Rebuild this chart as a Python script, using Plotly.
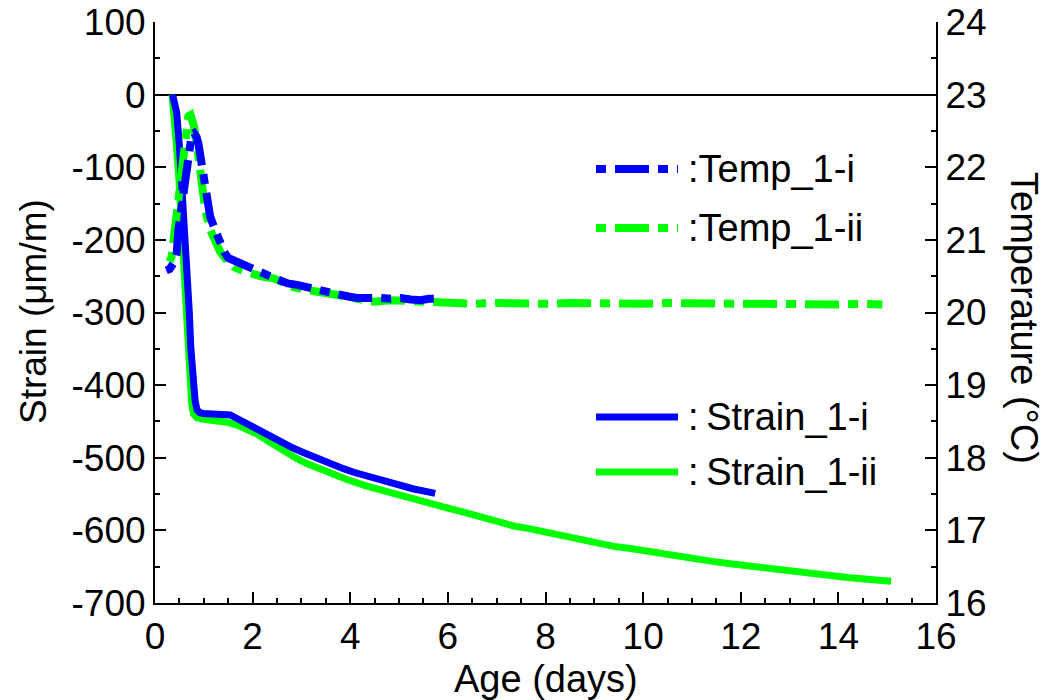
import plotly.graph_objects as go

# ---------------- data ----------------
strain_i_days = [0.36, 0.445, 0.50, 0.547, 0.581, 0.622, 0.663, 0.704, 0.732, 0.773, 0.821, 0.86, 0.92,
                 0.99, 1.2, 1.40, 1.54, 1.68, 1.85, 2.02, 2.25, 2.43, 2.63, 2.84, 3.05, 3.25, 3.45, 3.66,
                 3.86, 4.07, 4.28, 4.48, 4.69, 4.89, 5.10, 5.30, 5.52, 5.74]
strain_i = [0, -25, -71, -117, -163, -209, -255, -301, -347, -393, -421, -434, -438,
            -439, -439, -440, -441, -446, -452, -460, -468, -474, -480, -487, -493, -499, -504, -510,
            -515, -520, -524, -529, -533, -537, -540, -543, -546, -549]

strain_ii_days = [0.35, 0.40, 0.44, 0.49, 0.525, 0.565, 0.605, 0.645, 0.68, 0.715, 0.75, 0.79, 0.86,
                  1.0, 1.25, 1.47, 1.68, 1.88, 2.08, 2.29, 2.50, 2.70, 2.90, 3.11, 3.32, 3.52, 3.73,
                  3.93, 4.34, 4.75, 5.16, 5.57, 5.98, 6.32, 6.66, 7.01, 7.35, 7.69, 8.03, 8.38, 8.72,
                  9.06, 9.40, 9.74, 10.09, 10.43, 10.77, 11.11, 11.45, 11.79, 12.13, 12.48, 12.82,
                  13.16, 13.5, 13.85, 14.19, 14.53, 14.8, 15.08]
strain_ii = [0, -30, -71, -117, -163, -209, -255, -301, -347, -393, -425, -440, -445,
             -447, -449, -451, -455, -460, -467, -476, -485, -494, -501, -508, -514, -520, -525,
             -530, -539, -547, -555, -562, -569, -575, -582, -589, -594, -598, -603, -607, -613,
             -618, -622, -625, -629, -632, -636, -639, -643, -646, -649, -652, -655,
             -657, -660, -662, -665, -667, -668, -670]

temp_i_days = [0.23, 0.30, 0.40, 0.445, 0.48, 0.547, 0.615, 0.683, 0.752, 0.80, 0.85, 0.889, 0.957,
               0.99, 1.06, 1.13, 1.23, 1.33, 1.42, 1.50, 1.65, 1.81, 1.98, 2.15, 2.35, 2.53, 2.72,
               2.91, 3.08, 3.25, 3.52, 3.79, 3.96, 4.14, 4.38, 4.62, 4.83, 5.03, 5.24, 5.44, 5.61, 5.78]
temp_i = [20.58, 20.60, 20.70, 20.82, 21.14, 21.51, 21.83, 22.20, 22.45, 22.47, 22.42, 22.33, 22.06,
          21.83, 21.60, 21.32, 21.14, 20.95, 20.83, 20.75, 20.70, 20.66, 20.60, 20.56, 20.50, 20.44, 20.40,
          20.38, 20.35, 20.32, 20.28, 20.25, 20.22, 20.20, 20.21, 20.20, 20.19, 20.20, 20.18, 20.17, 20.19, 20.19]

temp_ii_days = [0.30, 0.34, 0.39, 0.48, 0.547, 0.615, 0.683, 0.73, 0.80, 0.889, 0.957, 1.03, 1.13,
                1.23, 1.33, 1.47, 1.61, 1.80, 2.02, 2.22, 2.43, 2.63, 2.84, 3.11, 3.35, 3.59, 3.93,
                4.20, 4.48, 4.82, 5.06, 5.30, 5.71, 6.12, 6.5, 7.0, 7.5, 8.0, 8.5, 9.0, 9.5, 10.0,
                10.5, 11.0, 11.5, 12.0, 12.5, 13.0, 13.5, 14.0, 14.5, 14.9]
temp_ii = [20.70, 20.77, 21.05, 21.60, 22.01, 22.47, 22.70, 22.72, 22.56, 22.15, 21.74, 21.41, 21.14,
           20.98, 20.84, 20.72, 20.63, 20.57, 20.52, 20.49, 20.47, 20.40, 20.35, 20.31, 20.29, 20.26, 20.22,
           20.18, 20.15, 20.17, 20.16, 20.15, 20.14, 20.14, 20.12, 20.13, 20.12, 20.12, 20.13, 20.12, 20.11,
           20.12, 20.13, 20.12, 20.11, 20.12, 20.12, 20.11, 20.12, 20.11, 20.12, 20.11]

series_names = ["Temp_1-i", "Temp_1-ii", "Strain_1-i", "Strain_1-ii"]
x_ticks = [0, 2, 4, 6, 8, 10, 12, 14, 16]
y_ticks = [100, 0, -100, -200, -300, -400, -500, -600, -700]
y_tick_labels = ["100", "0", "-100", "-200", "-300", "-400", "-500", "-600", "-700"]
y2_ticks = [24, 23, 22, 21, 20, 19, 18, 17, 16]

BLUE = "#0000FF"
GREEN = "#00FF00"
FONT = "Liberation Sans, Arial, sans-serif"
TEMP_DASH = "10px,9px,34px,9px"

fig = go.Figure()
fig.add_trace(go.Scatter(x=strain_ii_days, y=strain_ii, mode="lines", name=series_names[3],
                         line=dict(color=GREEN, width=7), yaxis="y"))
fig.add_trace(go.Scatter(x=strain_i_days, y=strain_i, mode="lines", name=series_names[2],
                         line=dict(color=BLUE, width=7), yaxis="y"))
fig.add_trace(go.Scatter(x=temp_ii_days, y=temp_ii, mode="lines", name=series_names[1],
                         line=dict(color=GREEN, width=8, dash=TEMP_DASH), yaxis="y2"))
fig.add_trace(go.Scatter(x=temp_i_days, y=temp_i, mode="lines", name=series_names[0],
                         line=dict(color=BLUE, width=8, dash=TEMP_DASH), yaxis="y2"))

# plot area geometry (px)
L, R, T, B = 155, 109, 22, 97
W, H = 1045, 700
pw, ph = W - L - R, H - T - B


def px_x(p):
    return (p - L) / pw


def px_y(p):
    return (H - B - p) / ph


# custom legend (samples + labels)
legend_items = [
    (series_names[0], BLUE, 169, TEMP_DASH, 8, ":"),
    (series_names[1], GREEN, 228, TEMP_DASH, 8, ":"),
    (series_names[2], BLUE, 417, "solid", 7, ":\u2009"),
    (series_names[3], GREEN, 472, "solid", 7, ":\u2009"),
]
for name, col, yy, dash, w, sep in legend_items:
    fig.add_shape(type="line", xref="paper", yref="paper",
                  x0=px_x(596), x1=px_x(678), y0=px_y(yy), y1=px_y(yy),
                  line=dict(color=col, width=w, dash=dash))
    fig.add_annotation(xref="paper", yref="paper", x=px_x(686), y=px_y(yy),
                       xanchor="left", yanchor="middle", showarrow=False,
                       text=sep + name, font=dict(family=FONT, size=38, color="black"))

# axis titles
fig.add_annotation(xref="paper", yref="paper", x=px_x(546), y=px_y(679),
                   xanchor="center", yanchor="middle", showarrow=False,
                   text="Age (days)", font=dict(family=FONT, size=38, color="black"))
fig.add_annotation(xref="paper", yref="paper", x=px_x(33), y=px_y(312),
                   xanchor="center", yanchor="middle", showarrow=False, textangle=-90,
                   text="Strain (μm/m)", font=dict(family=FONT, size=37, color="black"))
fig.add_annotation(xref="paper", yref="paper", x=px_x(1024), y=px_y(318),
                   xanchor="center", yanchor="middle", showarrow=False, textangle=90,
                   text="Temperature (°C)", font=dict(family=FONT, size=38, color="black"))

axis_common = dict(showgrid=False, ticks="inside", ticklen=11, tickwidth=2, tickcolor="black",
                   showline=True, linecolor="black", linewidth=2, automargin=False,
                   tickfont=dict(family=FONT, size=37, color="black"))

fig.update_layout(
    template="none",
    width=W, height=H,
    margin=dict(l=L, r=R, t=T, b=B, autoexpand=False),
    paper_bgcolor="white", plot_bgcolor="white",
    showlegend=False,
    xaxis=dict(range=[0, 16], tickvals=x_ticks, zeroline=False,
               minor=dict(dtick=0.5, ticks="inside", ticklen=5, tickwidth=1.5, tickcolor="black"),
               **axis_common),
    yaxis=dict(range=[-700, 100], tickvals=y_ticks, ticktext=y_tick_labels, zeroline=True,
               zerolinecolor="black", zerolinewidth=1.5,
               minor=dict(dtick=50, ticks="inside", ticklen=5, tickwidth=1.5, tickcolor="black"),
               **axis_common),
    yaxis2=dict(range=[16, 24], tickvals=y2_ticks, overlaying="y", side="right", anchor="x",
                zeroline=False,
                minor=dict(dtick=0.5, ticks="inside", ticklen=5, tickwidth=1.5, tickcolor="black"),
                **axis_common),
)

fig.write_html("out.html", config={"displayModeBar": False},
               post_script="document.body.style.margin='0';document.body.style.overflow='hidden';")
